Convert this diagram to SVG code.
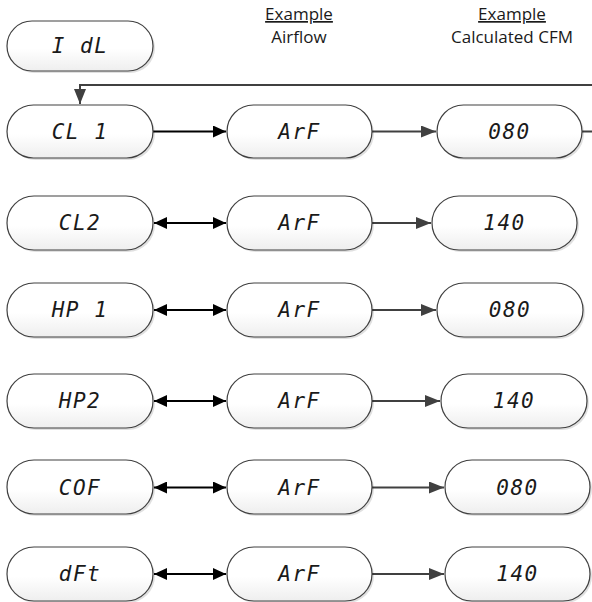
<svg xmlns="http://www.w3.org/2000/svg" width="592" height="602" viewBox="0 0 592 602">
<defs>
<linearGradient id="g" x1="0" y1="0" x2="0" y2="1">
<stop offset="0" stop-color="#ffffff"/>
<stop offset="0.55" stop-color="#ffffff"/>
<stop offset="1" stop-color="#eeeeee"/>
</linearGradient>
<marker id="ah" viewBox="0 0 10 10" refX="10" refY="5" markerWidth="13" markerHeight="12" markerUnits="userSpaceOnUse" orient="auto-start-reverse" preserveAspectRatio="none">
<path d="M0,0 L10,5 L0,10 z" fill="#000"/>
</marker>
<marker id="ahg" viewBox="0 0 10 10" refX="10" refY="5" markerWidth="15" markerHeight="12" markerUnits="userSpaceOnUse" orient="auto" preserveAspectRatio="none">
<path d="M0,0 L10,5 L0,10 z" fill="#404040"/>
</marker>
</defs>
<style>
.pill{fill:url(#g);stroke:#404040;stroke-width:1.2}
.sh{fill:#000;opacity:0.12}
.seg{font-family:"DejaVu Sans Mono",monospace;font-style:oblique;font-size:21px;letter-spacing:1.5px;fill:#1a1a1a;text-anchor:middle;dominant-baseline:central}
.hd{font-family:"Open Sans","Liberation Sans",sans-serif;font-size:17px;fill:#1a1a1a;text-anchor:middle}
.blk{stroke:#000;stroke-width:2;fill:none}
.gry{stroke:#404040;stroke-width:2;fill:none}
</style>
<g id="headers">
<text class="hd" x="299" y="20" text-decoration="underline">Example</text>
<text class="hd" x="299" y="43">Airflow</text>
<text class="hd" x="512" y="20" text-decoration="underline">Example</text>
<text class="hd" x="512" y="43">Calculated CFM</text>
</g>
<g id="connectors">
<path class="gry" d="M582,131.5 H592 M592,85 H80 V104" marker-end="url(#ahg)"/>
<line class="blk" x1="153" y1="131.5" x2="226" y2="131.5" marker-end="url(#ah)"/>
<line class="blk" x1="154" y1="223" x2="226" y2="223" marker-start="url(#ah)" marker-end="url(#ah)"/>
<line class="blk" x1="154" y1="310" x2="226" y2="310" marker-start="url(#ah)" marker-end="url(#ah)"/>
<line class="blk" x1="154" y1="401" x2="226" y2="401" marker-start="url(#ah)" marker-end="url(#ah)"/>
<line class="blk" x1="154" y1="487.5" x2="226" y2="487.5" marker-start="url(#ah)" marker-end="url(#ah)"/>
<line class="blk" x1="154" y1="574" x2="226" y2="574" marker-start="url(#ah)" marker-end="url(#ah)"/>
<line class="gry" x1="372" y1="131.5" x2="436" y2="131.5" marker-end="url(#ahg)"/>
<line class="gry" x1="372" y1="223" x2="431" y2="223" marker-end="url(#ahg)"/>
<line class="gry" x1="372" y1="310" x2="436" y2="310" marker-end="url(#ahg)"/>
<line class="gry" x1="372" y1="401" x2="440" y2="401" marker-end="url(#ahg)"/>
<line class="gry" x1="372" y1="487.5" x2="444" y2="487.5" marker-end="url(#ahg)"/>
<line class="gry" x1="372" y1="574" x2="444" y2="574" marker-end="url(#ahg)"/>
</g>
<g id="idl"><rect class="sh" x="9" y="23" width="146" height="50" rx="25"/><rect class="pill" x="7" y="21" width="146" height="50" rx="25"/><text class="seg" x="80" y="46">I dL</text></g>
<g id="cl1"><rect class="sh" x="9" y="107" width="146" height="53" rx="26.5"/><rect class="pill" x="7" y="105" width="146" height="53" rx="26.5"/><text class="seg" x="80" y="131.5">CL 1</text></g>
<g id="cl1-arf"><rect class="sh" x="229" y="107" width="145" height="53" rx="26.5"/><rect class="pill" x="227" y="105" width="145" height="53" rx="26.5"/><text class="seg" x="299.5" y="131.5">ArF</text></g>
<g id="cl1-cfm"><rect class="sh" x="439" y="107" width="145" height="53" rx="26.5"/><rect class="pill" x="437" y="105" width="145" height="53" rx="26.5"/><text class="seg" x="509.5" y="131.5">080</text></g>
<g id="cl2"><rect class="sh" x="9" y="198" width="146" height="54" rx="27"/><rect class="pill" x="7" y="196" width="146" height="54" rx="27"/><text class="seg" x="80" y="223">CL2</text></g>
<g id="cl2-arf"><rect class="sh" x="229" y="198" width="145" height="54" rx="27"/><rect class="pill" x="227" y="196" width="145" height="54" rx="27"/><text class="seg" x="299.5" y="223">ArF</text></g>
<g id="cl2-cfm"><rect class="sh" x="434" y="198" width="145" height="54" rx="27"/><rect class="pill" x="432" y="196" width="145" height="54" rx="27"/><text class="seg" x="504.5" y="223">140</text></g>
<g id="hp1"><rect class="sh" x="9" y="285" width="146" height="54" rx="27"/><rect class="pill" x="7" y="283" width="146" height="54" rx="27"/><text class="seg" x="80" y="310">HP 1</text></g>
<g id="hp1-arf"><rect class="sh" x="229" y="285" width="145" height="54" rx="27"/><rect class="pill" x="227" y="283" width="145" height="54" rx="27"/><text class="seg" x="299.5" y="310">ArF</text></g>
<g id="hp1-cfm"><rect class="sh" x="439" y="285" width="146" height="54" rx="27"/><rect class="pill" x="437" y="283" width="146" height="54" rx="27"/><text class="seg" x="510" y="310">080</text></g>
<g id="hp2"><rect class="sh" x="9" y="376" width="146" height="54" rx="27"/><rect class="pill" x="7" y="374" width="146" height="54" rx="27"/><text class="seg" x="80" y="401">HP2</text></g>
<g id="hp2-arf"><rect class="sh" x="229" y="376" width="145" height="54" rx="27"/><rect class="pill" x="227" y="374" width="145" height="54" rx="27"/><text class="seg" x="299.5" y="401">ArF</text></g>
<g id="hp2-cfm"><rect class="sh" x="443" y="376" width="146" height="54" rx="27"/><rect class="pill" x="441" y="374" width="146" height="54" rx="27"/><text class="seg" x="514" y="401">140</text></g>
<g id="cof"><rect class="sh" x="9" y="462" width="146" height="54" rx="27"/><rect class="pill" x="7" y="460" width="146" height="54" rx="27"/><text class="seg" x="80" y="487.5">COF</text></g>
<g id="cof-arf"><rect class="sh" x="229" y="462" width="145" height="54" rx="27"/><rect class="pill" x="227" y="460" width="145" height="54" rx="27"/><text class="seg" x="299.5" y="487.5">ArF</text></g>
<g id="cof-cfm"><rect class="sh" x="447" y="462" width="145" height="54" rx="27"/><rect class="pill" x="445" y="460" width="145" height="54" rx="27"/><text class="seg" x="517.5" y="487.5">080</text></g>
<g id="dft"><rect class="sh" x="9" y="549" width="146" height="54" rx="27"/><rect class="pill" x="7" y="547" width="146" height="54" rx="27"/><text class="seg" x="80" y="574">dFt</text></g>
<g id="dft-arf"><rect class="sh" x="229" y="549" width="145" height="54" rx="27"/><rect class="pill" x="227" y="547" width="145" height="54" rx="27"/><text class="seg" x="299.5" y="574">ArF</text></g>
<g id="dft-cfm"><rect class="sh" x="447" y="549" width="145" height="54" rx="27"/><rect class="pill" x="445" y="547" width="145" height="54" rx="27"/><text class="seg" x="517.5" y="574">140</text></g>
</svg>
